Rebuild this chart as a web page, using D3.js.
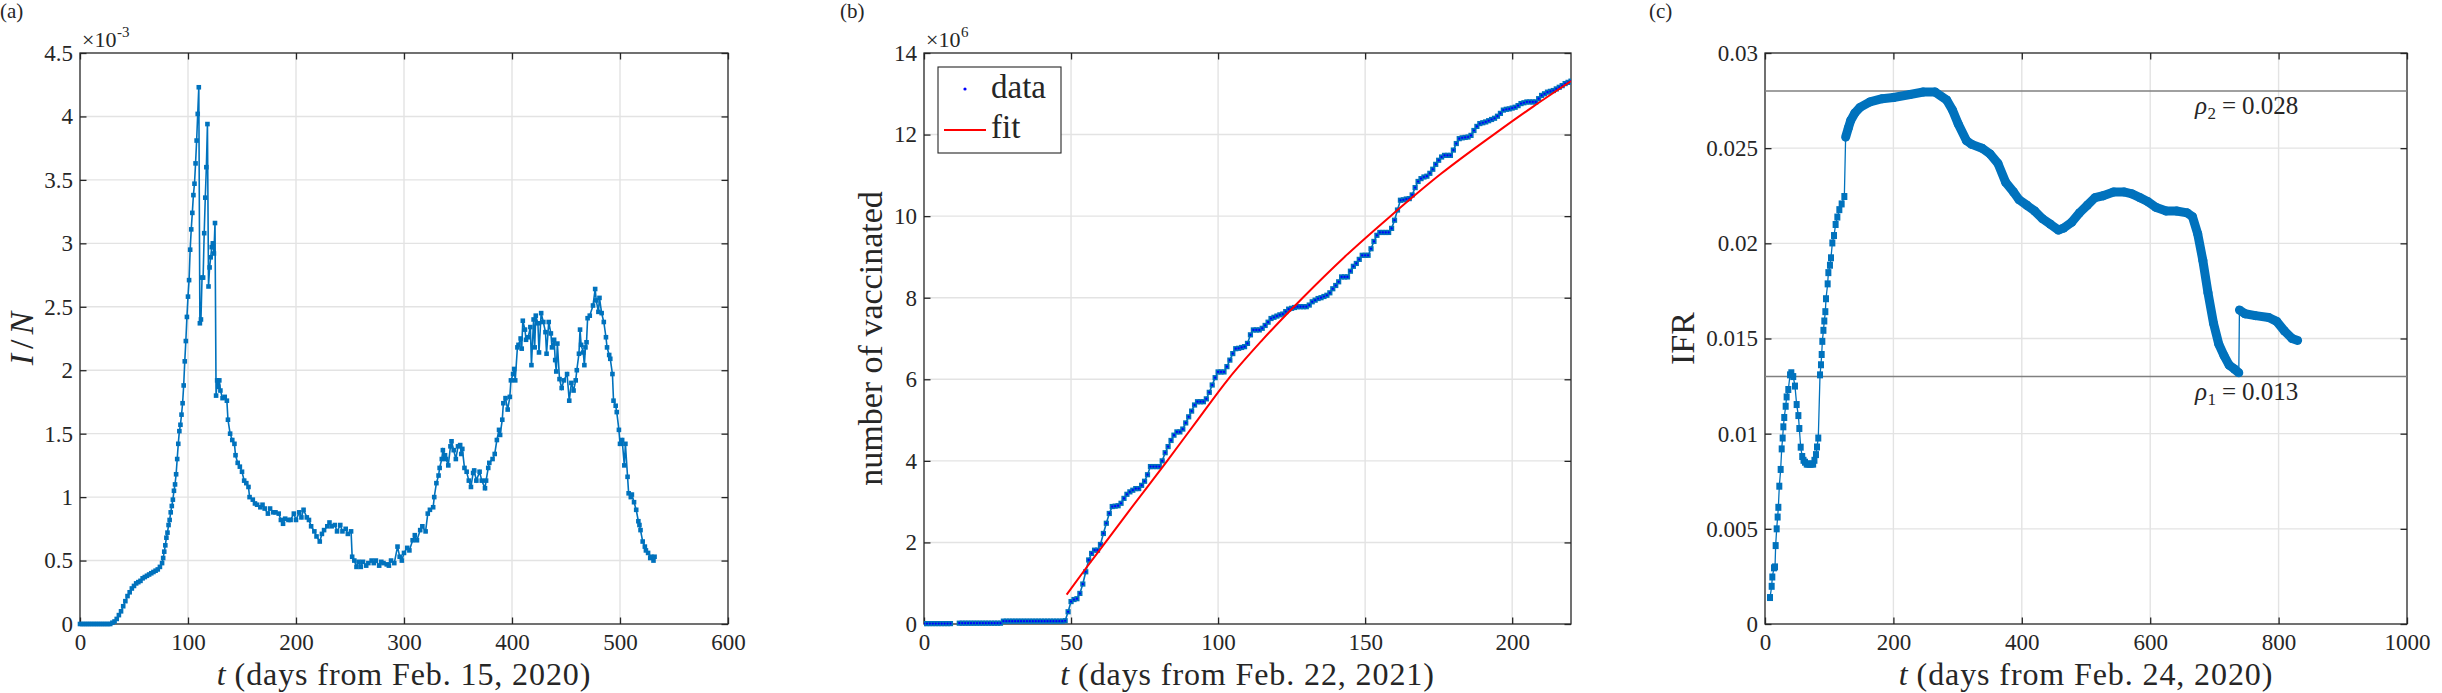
<!DOCTYPE html>
<html>
<head>
<meta charset="utf-8">
<script src="https://cdn.jsdelivr.net/npm/d3@7"></script>
<style>
  body { margin: 0; background: #fff; }
  svg text { font-family: "Liberation Serif", "Times New Roman", serif; fill: #262626; }
</style>
</head>
<body>
<svg id="fig" width="2442" height="693"></svg>
<script>

// ---------- panel (a): I/N (x 1e-3) vs days from Feb. 15, 2020 ----------
const aDays = [
  0, 2, 4, 6, 8, 10, 12, 14, 16, 18, 20, 22, 24, 26, 28,
  30, 32, 34, 36, 38, 40, 42, 44, 46, 48, 50, 52, 54, 56, 58, 60, 62, 64, 66, 68, 70, 72, 74, 76,
  77, 78, 79, 80, 81, 82, 83, 84, 85, 86,
  87, 88, 89, 90, 91, 92, 93, 94, 95, 96,
  97, 98, 99, 100, 101, 102, 103, 104, 105, 106,
  107, 108, 109, 110, 111, 112, 113, 114, 115, 116,
  117, 118, 119, 120, 121, 122, 123, 124, 125, 126,
  127, 128, 129, 130, 132, 134, 136, 137, 139, 141,
  143, 144, 146, 148, 150, 152, 154, 156, 157, 160,
  162, 164, 167, 169, 171, 174, 176, 179, 181, 184,
  186, 188, 190, 193, 195, 198, 200, 203, 205, 207,
  210, 212, 214, 217, 219, 222, 224, 226, 229, 231,
  233, 236, 238, 241, 243, 246, 248, 251, 252, 254,
  256, 258, 260, 262, 265, 267, 270, 272, 274, 277,
  279, 281, 284, 286, 288, 291, 294, 296, 298, 300,
  303, 305, 308, 310, 312, 315, 317, 320, 322, 324,
  327, 328, 330, 332, 333, 335, 336, 338, 339, 341,
  343, 344, 346, 348, 350, 352, 353, 354, 356, 358,
  360, 362, 364, 365, 367, 370, 372, 375, 376, 378,
  379, 382, 384, 386, 388, 389, 391, 392, 394, 396,
  398, 399, 401, 402, 403, 405, 406, 408, 409, 410,
  412, 413, 415, 417, 418, 420, 421, 422, 424, 425,
  427, 429, 431, 432, 434, 436, 437, 439, 440, 441,
  442, 444, 446, 448, 451, 453, 455, 457, 459, 460,
  462, 463, 464, 466, 467, 468, 469, 470, 472, 475,
  477, 478, 480, 481, 483, 485, 487, 488, 490, 491,
  493, 494, 496, 497, 499, 500, 502, 504, 505, 507,
  508, 510, 511, 513, 515, 517, 518, 519, 521, 523,
  524, 526, 528, 529, 531, 532
];
const aRatio = [
  0, 0, 0, 0, 0, 0, 0, 0, 0, 0, 0, 0, 0, 0, 0,
  0.01, 0.02, 0.04, 0.07, 0.10, 0.14, 0.18, 0.22, 0.25, 0.28, 0.30, 0.32, 0.33, 0.34, 0.36, 0.37, 0.38, 0.39, 0.40, 0.41, 0.42, 0.43, 0.45, 0.48,
  0.52, 0.57, 0.62, 0.68, 0.72, 0.78, 0.82, 0.88, 0.93, 0.98,
  1.05, 1.10, 1.18, 1.30, 1.42, 1.52, 1.57, 1.65, 1.74, 1.88,
  2.07, 2.23, 2.42, 2.58, 2.71, 2.95, 3.11, 3.24, 3.38, 3.47,
  3.63, 3.81, 4.02, 4.23, 2.37, 2.40, 2.73, 2.73, 3.08, 3.36,
  3.60, 3.94, 2.66, 2.81, 2.89, 2.97, 3.00, 2.92, 3.16, 1.80,
  1.92, 1.87, 1.92, 1.84, 1.78, 1.79, 1.76, 1.61, 1.50, 1.45,
  1.42, 1.33, 1.27, 1.24, 1.20, 1.13, 1.11, 1.08, 1.00, 0.98,
  0.95, 0.94, 0.92, 0.94, 0.91, 0.87, 0.91, 0.88, 0.88, 0.87,
  0.82, 0.79, 0.83, 0.82, 0.82, 0.87, 0.82, 0.88, 0.84, 0.90,
  0.84, 0.82, 0.77, 0.73, 0.69, 0.65, 0.71, 0.74, 0.77, 0.80,
  0.77, 0.78, 0.73, 0.78, 0.73, 0.75, 0.71, 0.73, 0.53, 0.50,
  0.45, 0.49, 0.45, 0.49, 0.46, 0.48, 0.50, 0.48, 0.50, 0.46,
  0.49, 0.48, 0.47, 0.46, 0.50, 0.48, 0.61, 0.53, 0.50, 0.56,
  0.60, 0.58, 0.66, 0.70, 0.66, 0.74, 0.77, 0.73, 0.87, 0.90,
  0.92, 1.00, 1.11, 1.17, 1.23, 1.30, 1.37, 1.33, 1.30, 1.25,
  1.40, 1.44, 1.37, 1.30, 1.40, 1.41, 1.34, 1.38, 1.23, 1.20,
  1.13, 1.08, 1.19, 1.21, 1.13, 1.20, 1.13, 1.07, 1.13, 1.23,
  1.27, 1.30, 1.34, 1.45, 1.53, 1.49, 1.61, 1.74, 1.78, 1.69,
  1.79, 1.92, 1.97, 2.01, 1.92, 2.18, 2.20, 2.25, 2.17, 2.39,
  2.32, 2.24, 2.26, 2.34, 2.04, 2.40, 2.18, 2.43, 2.37, 2.14,
  2.45, 2.38, 2.30, 2.13, 2.38, 2.29, 2.18, 2.24, 2.08, 1.99,
  2.21, 1.93, 1.86, 1.92, 1.97, 1.76, 1.90, 1.84, 1.92, 2.00,
  2.13, 2.32, 2.20, 2.14, 2.04, 2.18, 2.22, 2.41, 2.43, 2.51,
  2.64, 2.55, 2.46, 2.57, 2.45, 2.38, 2.26, 2.18, 2.12, 2.09,
  1.97, 1.76, 1.72, 1.67, 1.53, 1.42, 1.45, 1.25, 1.42, 1.16,
  1.03, 1.00, 1.02, 0.96, 0.90, 0.81, 0.78, 0.74, 0.65, 0.61,
  0.58, 0.56, 0.52, 0.53, 0.50, 0.53
];
const aXTicks = [0, 100, 200, 300, 400, 500, 600];
const aYTicks = [0, 0.5, 1, 1.5, 2, 2.5, 3, 3.5, 4, 4.5];

// ---------- panel (b): number vaccinated (x 1e6), one value per day from day 0 ----------
const bVaccinated = [
  0.01, 0.01, 0.01, 0.01, 0.01, 0.01, 0.01, 0.01, 0.01, 0.01,
  null, null,
  0.02, 0.02, 0.02, 0.02, 0.02, 0.02, 0.02, 0.02, 0.02, 0.02, 0.02, 0.02, 0.02, 0.02, 0.02,
  0.07, 0.07, 0.07, 0.07, 0.07, 0.07, 0.07, 0.07, 0.07, 0.07, 0.07,
  0.07, 0.07, 0.07, 0.07, 0.07, 0.07, 0.07, 0.07, 0.07, 0.07,
  0.08, 0.30, 0.55, 0.60, 0.62, 0.75, 0.98, 1.28, 1.57, 1.73,
  1.81, 1.81, 1.95, 2.22, 2.47, 2.71, 2.88, 2.89, 2.90, 2.96,
  3.08, 3.18, 3.24, 3.28, 3.32, 3.32, 3.40, 3.50, 3.66, 3.86,
  3.86, 3.86, 3.86, 4.00, 4.20, 4.35, 4.50, 4.63, 4.71, 4.71,
  4.78, 4.93, 5.08, 5.22, 5.37, 5.45, 5.45, 5.45, 5.52, 5.68,
  5.86, 6.04, 6.18, 6.18, 6.18, 6.31, 6.47, 6.63, 6.75, 6.76,
  6.78, 6.80, 6.88, 7.09, 7.21, 7.21, 7.21, 7.25, 7.32, 7.40,
  7.49, 7.52, 7.55, 7.58, 7.60, 7.66, 7.72, 7.74, 7.76, 7.78,
  7.78, 7.78, 7.78, 7.82, 7.90, 7.94, 7.98, 8.00, 8.03, 8.06,
  8.12, 8.22, 8.30, 8.39, 8.51, 8.51, 8.51, 8.65, 8.77, 8.84,
  8.94, 9.04, 9.04, 9.04, 9.20, 9.38, 9.53, 9.60, 9.60, 9.60,
  9.60, 9.70, 9.90, 10.15, 10.39, 10.40, 10.42, 10.43, 10.52, 10.70,
  10.85, 10.92, 10.96, 10.98, 11.05, 11.15, 11.27, 11.37, 11.45, 11.49,
  11.49, 11.49, 11.62, 11.78, 11.90, 11.92, 11.93, 11.94, 11.98, 12.10,
  12.20, 12.27, 12.29, 12.31, 12.34, 12.37, 12.40, 12.45, 12.52, 12.60,
  12.62, 12.63, 12.65, 12.67, 12.71, 12.76, 12.78, 12.80, 12.80, 12.80,
  12.80, 12.88, 12.96, 13.00, 13.04, 13.06, 13.08, 13.12, 13.16, 13.20,
  13.25, 13.28, 13.31
];
const bFitDays = [48.5, 55, 61.7, 70, 82.7, 93, 103.4, 115, 128.8, 143, 158.6, 176, 193.7, 207, 220];
const bFitValues = [0.72, 1.36, 2.0, 2.8, 4.0, 5.0, 6.0, 6.96, 8.0, 9.0, 10.0, 11.05, 12.0, 12.68, 13.31];
const bXTicks = [0, 50, 100, 150, 200];
const bYTicks = [0, 2, 4, 6, 8, 10, 12, 14];

// ---------- panel (c): IFR vs days from Feb. 24, 2020 ----------
const cDays = [
  7.8, 10.4, 11.4, 14, 15.6, 16.6, 18.2, 19.7, 20.8, 22.3,
  24.4, 26, 27.5, 28.6, 30, 32.2, 33.7, 36.3, 39, 41,
  44, 46.7, 49.3, 52, 53.5, 55.6, 58, 60, 62.3, 65,
  67.5, 70, 72.5, 75, 77, 79.4, 81, 83, 85.7, 87.2,
  88.3, 89.3, 91, 92.4, 94, 95, 97.6, 98.7, 101.2, 102.8,
  104.9, 107.5, 110, 112.7, 115.8, 119.4, 123.6, 125.6, 129.8, 133.4,
  140, 148, 163.5, 182.6, 200, 226, 246.6, 264.8, 283, 292,
  301, 313.7, 322, 338, 350.5, 362.8, 375, 387, 395.6, 408,
  420, 432, 444.7, 457, 465, 477.5, 489.8, 502, 514, 526.6,
  543, 559, 571.6, 584, 596, 608.5, 625, 641, 657.6, 665.8,
  674, 682, 690, 698.6, 706.8, 715, 723, 731, 738, 739,
  747.7, 764, 784.6, 797, 809, 821, 829.7
];
const cIfr = [
  0.00139, 0.00198, 0.00247, 0.00295, 0.0030, 0.00412, 0.0050, 0.00562, 0.00613, 0.00724,
  0.00812, 0.0092, 0.00977, 0.01036, 0.01085, 0.01144, 0.01193, 0.01232, 0.01309, 0.0132,
  0.0130, 0.0125, 0.01153, 0.01095, 0.01027, 0.00929, 0.0088, 0.0086, 0.0085, 0.0084,
  0.0084, 0.0084, 0.0084, 0.0084, 0.0086, 0.0089, 0.0093, 0.00977, 0.01309, 0.01362,
  0.01416, 0.01485, 0.01543, 0.01592, 0.01641, 0.01709, 0.01787, 0.01846, 0.01885, 0.01924,
  0.02002, 0.02041, 0.02099, 0.02138, 0.02177, 0.02207, 0.02246, 0.02558, 0.02606, 0.02645,
  0.02685, 0.02714, 0.02743, 0.0276, 0.02766, 0.02782, 0.02795, 0.02795, 0.02753, 0.0270,
  0.02627, 0.0254, 0.0252, 0.0250, 0.0247, 0.0242, 0.0232, 0.0227, 0.0223, 0.0220,
  0.0217, 0.0213, 0.0210, 0.0207, 0.0208, 0.0211, 0.0216, 0.0220, 0.0224, 0.0225,
  0.0227, 0.0227, 0.0226, 0.0224, 0.0222, 0.0219, 0.0217, 0.0217, 0.0216, 0.0214,
  0.0205, 0.0191, 0.0174, 0.0158, 0.0147, 0.0141, 0.0136, 0.0134, 0.0132, 0.0165,
  0.0163, 0.0162, 0.0161, 0.0159, 0.0154, 0.0150, 0.0149
];
const cRho = [0.013, 0.028];
const cXTicks = [0, 200, 400, 600, 800, 1000];
const cYTicks = [0, 0.005, 0.01, 0.015, 0.02, 0.025, 0.03];
// from this day on the daily markers overlap into a solid band
const cDenseFrom = 125.6;

// ---------- shared layout ----------
const svg = d3.select("#fig");
const plotTop = 53, plotBottom = 624;
const blue = "#0072BD";
const axisColor = "#262626";
const gridColor = "#e3e3e3";
const tickLen = 6.5;

// lay out styled runs of text side by side as separate text elements
// anchor "middle" centres the whole run on (x, y); rotate turns it about that point
function richText(x, y, runs, opts = {}) {
  const outer = svg.append("g")
    .attr("transform", `translate(${x},${y})` + (opts.rotate ? ` rotate(${opts.rotate})` : ""));
  const inner = outer.append("g");
  let cx = 0;
  runs.forEach(r => {
    const t = inner.append("text")
      .attr("x", cx).attr("y", r.dy || 0)
      .attr("font-size", r.size)
      .attr("font-style", r.italic ? "italic" : null)
      .attr("letter-spacing", r.spacing || null)
      .text(r.text);
    cx += t.node().getComputedTextLength() + (r.gap || 0);
  });
  if (opts.anchor === "middle") inner.attr("transform", `translate(${-cx / 2},0)`);
  return outer;
}

function makePanel(p) {
  const x = d3.scaleLinear().domain(p.xDom).range([p.x0, p.x1]);
  const y = d3.scaleLinear().domain(p.yDom).range([plotBottom, plotTop]);
  const g = svg.append("g");

  // grid lines
  g.append("g").selectAll("line")
    .data(p.xTicks.filter(t => t > p.xDom[0] && t < p.xDom[1]))
    .join("line")
      .attr("x1", d => x(d)).attr("x2", d => x(d))
      .attr("y1", plotTop).attr("y2", plotBottom)
      .attr("stroke", gridColor).attr("stroke-width", 1.4);
  g.append("g").selectAll("line")
    .data(p.yTicks.filter(t => t > p.yDom[0] && t < p.yDom[1]))
    .join("line")
      .attr("x1", p.x0).attr("x2", p.x1)
      .attr("y1", d => y(d)).attr("y2", d => y(d))
      .attr("stroke", gridColor).attr("stroke-width", 1.4);

  // ticks (inward on all four sides) + labels
  const style = sel => {
    sel.select(".domain").remove();
    sel.attr("font-family", "Liberation Serif, Times New Roman, serif")
       .attr("font-size", 23).attr("color", axisColor);
    sel.selectAll(".tick line").attr("stroke-width", 1.3);
  };
  g.append("g").attr("transform", `translate(0,${plotBottom})`)
    .call(d3.axisBottom(x).tickValues(p.xTicks).tickFormat(d => String(d))
      .tickSize(-tickLen).tickSizeOuter(0).tickPadding(9.5))
    .call(style);
  g.append("g").attr("transform", `translate(0,${plotTop})`)
    .call(d3.axisTop(x).tickValues(p.xTicks).tickFormat("")
      .tickSize(-tickLen).tickSizeOuter(0))
    .call(style);
  g.append("g").attr("transform", `translate(${p.x0},0)`)
    .call(d3.axisLeft(y).tickValues(p.yTicks).tickFormat(d => String(d))
      .tickSize(-tickLen).tickSizeOuter(0).tickPadding(7))
    .call(style);
  g.append("g").attr("transform", `translate(${p.x1},0)`)
    .call(d3.axisRight(y).tickValues(p.yTicks).tickFormat("")
      .tickSize(-tickLen).tickSizeOuter(0))
    .call(style);

  // box
  g.append("rect")
    .attr("x", p.x0).attr("y", plotTop)
    .attr("width", p.x1 - p.x0).attr("height", plotBottom - plotTop)
    .attr("fill", "none").attr("stroke", axisColor).attr("stroke-width", 1.3);

  // panel letter
  svg.append("text").attr("x", p.letterX).attr("y", 18)
    .attr("font-size", 21).text(p.letter);

  // x label
  richText((p.x0 + p.x1) / 2, 685, [
    { text: "t", italic: true, size: 32, gap: 9 },
    { text: p.xLabel, size: 32, spacing: 0.9 }
  ], { anchor: "middle" });

  return { x, y, g };
}

function exponent(xPos, power) {
  richText(xPos, 47, [
    { text: "\u00d710", size: 22, gap: 0.5 },
    { text: power, size: 15, dy: -10 }
  ]);
}

// ---------- panel (a) ----------
const A = makePanel({
  x0: 80, x1: 728, xDom: [0, 600], yDom: [0, 4.5],
  xTicks: aXTicks, yTicks: aYTicks,
  letter: "(a)", letterX: 0, xLabel: "(days from Feb. 15, 2020)"
});
exponent(82, "-3");
richText(33, (plotTop + plotBottom) / 2, [
  { text: "I", italic: true, size: 34, gap: 5 },
  { text: "/", size: 34, gap: 5 },
  { text: "N", italic: true, size: 34 }
], { anchor: "middle", rotate: -90 });

const aPts = aDays.map((d, i) => [d, aRatio[i]]);
A.g.append("path")
  .datum(aPts)
  .attr("fill", "none").attr("stroke", blue).attr("stroke-width", 1.6)
  .attr("d", d3.line().x(d => A.x(d[0])).y(d => A.y(d[1])));
A.g.append("g").selectAll("rect")
  .data(aPts).join("rect")
    .attr("x", d => A.x(d[0]) - 2.3).attr("y", d => A.y(d[1]) - 2.3)
    .attr("width", 4.6).attr("height", 4.6).attr("fill", blue);

// ---------- panel (b) ----------
const B = makePanel({
  x0: 924, x1: 1571, xDom: [0, 220], yDom: [0, 14],
  xTicks: bXTicks, yTicks: bYTicks,
  letter: "(b)", letterX: 840, xLabel: "(days from Feb. 22, 2021)"
});
exponent(926, "6");
svg.append("text")
  .attr("transform", `translate(882,${(plotTop + plotBottom) / 2}) rotate(-90)`)
  .attr("text-anchor", "middle").attr("font-size", 34)
  .text("number of vaccinated");

svg.append("clipPath").attr("id", "clipB")
  .append("rect").attr("x", 924).attr("y", plotTop - 4)
  .attr("width", 1571 - 924).attr("height", plotBottom - plotTop + 8);

const bPts = bVaccinated.map((v, i) => [i, v]);
const bData = B.g.append("g").attr("clip-path", "url(#clipB)");
bData.append("path")
  .datum(bPts)
  .attr("fill", "none").attr("stroke", blue).attr("stroke-width", 1.6)
  .attr("d", d3.line().defined(d => d[1] !== null).x(d => B.x(d[0])).y(d => B.y(d[1])));
bData.append("g").selectAll("rect")
  .data(bPts.filter(d => d[1] !== null)).join("rect")
    .attr("x", d => B.x(d[0]) - 2.6).attr("y", d => B.y(d[1]) - 2.6)
    .attr("width", 5.2).attr("height", 5.2).attr("fill", blue);
bData.append("g").selectAll("circle")
  .data(bPts.filter(d => d[1] !== null)).join("circle")
    .attr("cx", d => B.x(d[0])).attr("cy", d => B.y(d[1]))
    .attr("r", 1.1).attr("fill", "#0000ff");
bData.append("path")
  .datum(bFitDays.map((d, i) => [d, bFitValues[i]]))
  .attr("fill", "none").attr("stroke", "#ff0000").attr("stroke-width", 2)
  .attr("d", d3.line().curve(d3.curveMonotoneX).x(d => B.x(d[0])).y(d => B.y(d[1])));

// legend
{
  const lg = svg.append("g");
  lg.append("rect").attr("x", 938).attr("y", 67).attr("width", 123).attr("height", 86)
    .attr("fill", "#fff").attr("stroke", axisColor).attr("stroke-width", 1.1);
  lg.append("circle").attr("cx", 965).attr("cy", 89).attr("r", 1.6).attr("fill", "#0000ff");
  lg.append("line").attr("x1", 944).attr("x2", 986).attr("y1", 130).attr("y2", 130)
    .attr("stroke", "#ff0000").attr("stroke-width", 2);
  lg.append("text").attr("x", 991).attr("y", 98).attr("font-size", 33).text("data");
  lg.append("text").attr("x", 991).attr("y", 138).attr("font-size", 33).text("fit");
}

// ---------- panel (c) ----------
const C = makePanel({
  x0: 1765, x1: 2407, xDom: [0, 1000], yDom: [0, 0.03],
  xTicks: cXTicks, yTicks: cYTicks,
  letter: "(c)", letterX: 1649, xLabel: "(days from Feb. 24, 2020)"
});
svg.append("text")
  .attr("transform", `translate(1694,${(plotTop + plotBottom) / 2}) rotate(-90)`)
  .attr("text-anchor", "middle").attr("font-size", 34)
  .text("IFR");

// reference levels rho_1, rho_2
C.g.append("g").selectAll("line")
  .data(cRho).join("line")
    .attr("x1", 1765).attr("x2", 2407)
    .attr("y1", d => C.y(d)).attr("y2", d => C.y(d))
    .attr("stroke", "#808080").attr("stroke-width", 1.4);
cRho.forEach((r, i) => {
  richText(2195, C.y(r) + 23, [
    { text: "\u03c1", italic: true, size: 25, gap: 0.5 },
    { text: String(i + 1), size: 17, dy: 5, gap: 6 },
    { text: "=", size: 25, gap: 6 },
    { text: String(r), size: 25 }
  ]);
});

const cPts = cDays.map((d, i) => [d, cIfr[i]]);
C.g.append("path")
  .datum(cPts)
  .attr("fill", "none").attr("stroke", blue).attr("stroke-width", 1.3)
  .attr("d", d3.line().x(d => C.x(d[0])).y(d => C.y(d[1])));
// dense daily markers overlap into a thick band; jumps stay thin
const band = C.g.append("g");
for (let i = 1; i < cPts.length; i++) {
  if (cPts[i - 1][0] < cDenseFrom) continue;
  const xa = C.x(cPts[i - 1][0]), ya = C.y(cPts[i - 1][1]);
  const xb = C.x(cPts[i][0]), yb = C.y(cPts[i][1]);
  if (Math.hypot(xb - xa, yb - ya) < 40) {
    band.append("line")
      .attr("x1", xa).attr("y1", ya).attr("x2", xb).attr("y2", yb)
      .attr("stroke", blue).attr("stroke-width", 9).attr("stroke-linecap", "round");
  }
}
C.g.append("g").selectAll("rect")
  .data(cPts).join("rect")
    .attr("x", d => C.x(d[0]) - 3).attr("y", d => C.y(d[1]) - 3.5)
    .attr("width", 6).attr("height", 7).attr("fill", blue);

</script>
</body>
</html>
